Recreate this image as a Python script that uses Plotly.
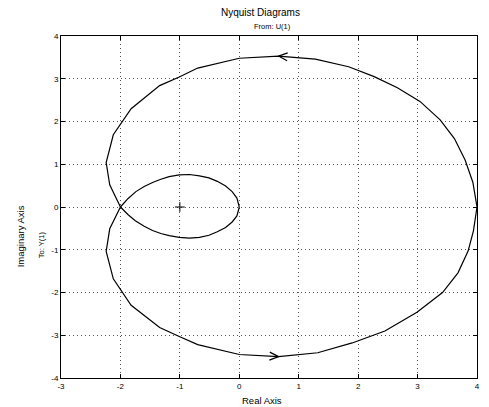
import math
import plotly.graph_objects as go

# ---- data (real / imaginary parts) ----
inner_upper_re = [0.0, -0.04, -0.12, -0.23, -0.37, -0.51, -0.67, -0.84, -1.01, -1.18, -1.32, -1.45, -1.60, -1.74, -1.87, -2.0]
inner_upper_im = [0.0, 0.21, 0.36, 0.49, 0.60, 0.68, 0.73, 0.76, 0.75, 0.71, 0.65, 0.58, 0.48, 0.36, 0.20, 0.0]

outer_lower_re = [-2.0, -2.18, -2.24, -2.12, -1.82, -1.34, -1.01, -0.70, 0.0, 0.66, 1.32, 1.90, 2.45, 2.99, 3.42, 3.68, 3.85, 3.94, 4.0]
outer_lower_im = [0.0, -0.51, -1.04, -1.68, -2.30, -2.82, -3.03, -3.22, -3.45, -3.50, -3.41, -3.18, -2.90, -2.46, -2.00, -1.54, -1.03, -0.56, 0.0]

outer_upper_re = [4.0, 3.93, 3.80, 3.62, 3.38, 3.04, 2.66, 2.27, 1.84, 1.28, 0.66, 0.0, -0.70, -1.01, -1.34, -1.82, -2.12, -2.24, -2.18, -2.0]
outer_upper_im = [0.0, 0.58, 1.10, 1.60, 2.04, 2.47, 2.79, 3.05, 3.28, 3.46, 3.53, 3.48, 3.25, 3.04, 2.84, 2.30, 1.69, 1.04, 0.52, 0.0]

inner_lower_re = [-2.0, -1.87, -1.75, -1.60, -1.46, -1.32, -1.18, -1.01, -0.84, -0.67, -0.51, -0.37, -0.23, -0.12, -0.04, 0.0]
inner_lower_im = [0.0, -0.18, -0.32, -0.45, -0.55, -0.62, -0.67, -0.71, -0.73, -0.71, -0.66, -0.58, -0.48, -0.35, -0.21, 0.0]

critical_re = [-1.0]
critical_im = [0.0]

x_ticks = [-3, -2, -1, 0, 1, 2, 3, 4]
x_tick_labels = ["-3", "-2", "-1", "0", "1", "2", "3", "4"]
y_ticks = [-4, -3, -2, -1, 0, 1, 2, 3, 4]
y_tick_labels = ["-4", "-3", "-2", "-1", "0", "1", "2", "3", "4"]

# ---- layout geometry ----
W, H = 489, 407
ML, MR, MT, MB = 61, 9, 36, 29
X_RANGE = [-3, 4]
Y_RANGE = [-4, 4]
px_x = (W - ML - MR) / (X_RANGE[1] - X_RANGE[0])
px_y = (H - MT - MB) / (Y_RANGE[1] - Y_RANGE[0])

fig = go.Figure()

branches = [
    (inner_upper_re, inner_upper_im),
    (outer_lower_re, outer_lower_im),
    (outer_upper_re, outer_upper_im),
    (inner_lower_re, inner_lower_im),
]
for re, im in branches:
    fig.add_trace(go.Scatter(x=re, y=im, mode="lines",
                             line=dict(color="black", width=1.2),
                             showlegend=False, hoverinfo="skip"))


def chevron(re, im, idx, length=9.0, half=4.0):
    """Open arrowhead at point idx pointing along the direction of travel."""
    tx, ty = re[idx], im[idx]
    dx = (tx - re[idx - 1]) * px_x
    dy = (ty - im[idx - 1]) * px_y
    n = math.hypot(dx, dy)
    ux, uy = dx / n, dy / n
    bx, by = -ux * length, -uy * length
    pxp, pyp = -uy * half, ux * half
    xs = [tx + (bx + pxp) / px_x, tx, tx + (bx - pxp) / px_x]
    ys = [ty + (by + pyp) / px_y, ty, ty + (by - pyp) / px_y]
    return xs, ys


for re, im, idx in [(outer_lower_re, outer_lower_im, 9), (outer_upper_re, outer_upper_im, 10)]:
    xs, ys = chevron(re, im, idx)
    fig.add_trace(go.Scatter(x=xs, y=ys, mode="lines",
                             line=dict(color="black", width=1.2),
                             showlegend=False, hoverinfo="skip"))

fig.add_trace(go.Scatter(x=critical_re, y=critical_im, mode="markers",
                         marker=dict(symbol="cross-thin", size=7,
                                     line=dict(color="black", width=1)),
                         showlegend=False, hoverinfo="skip"))

FONT = "Liberation Sans, Arial, Helvetica, sans-serif"

axis_common = dict(
    showline=True, linecolor="black", linewidth=1, mirror="ticks",
    ticks="inside", ticklen=4, tickcolor="black",
    showgrid=True, gridcolor="#555555", gridwidth=1, griddash="1px,3px",
    zeroline=False, tickfont=dict(family=FONT, size=8, color="black"),
)

fig.update_xaxes(range=X_RANGE, tickvals=x_ticks, ticktext=x_tick_labels, **axis_common)
fig.update_yaxes(range=Y_RANGE, tickvals=y_ticks, ticktext=y_tick_labels, **axis_common)

pw = W - ML - MR
ph = H - MT - MB


def px_to_paper(x, y):
    return (x - ML) / pw, (H - MB - y) / ph


annots = [
    ("Nyquist Diagrams", 262, 12, 10, 0),
    ("From: U(1)", 274, 27, 7.5, 0),
    ("Real Axis", 263, 400, 9.5, 0),
    ("Imaginary Axis", 20, 236, 9.5, -90),
    ("To: Y(1)", 41, 245, 7.5, -90),
]
for text, x, y, size, ang in annots:
    xp, yp = px_to_paper(x, y)
    fig.add_annotation(text=text, x=xp, y=yp, xref="paper", yref="paper",
                       showarrow=False, textangle=ang,
                       xanchor="center", yanchor="middle",
                       font=dict(family=FONT, size=size, color="black"))

fig.update_layout(
    width=W, height=H,
    margin=dict(l=ML, r=MR, t=MT, b=MB),
    paper_bgcolor="white", plot_bgcolor="white",
    showlegend=False,
)

fig.write_html("out.html", config={"displayModeBar": False},
               post_script="document.body.style.margin='0';document.body.style.overflow='hidden';")
